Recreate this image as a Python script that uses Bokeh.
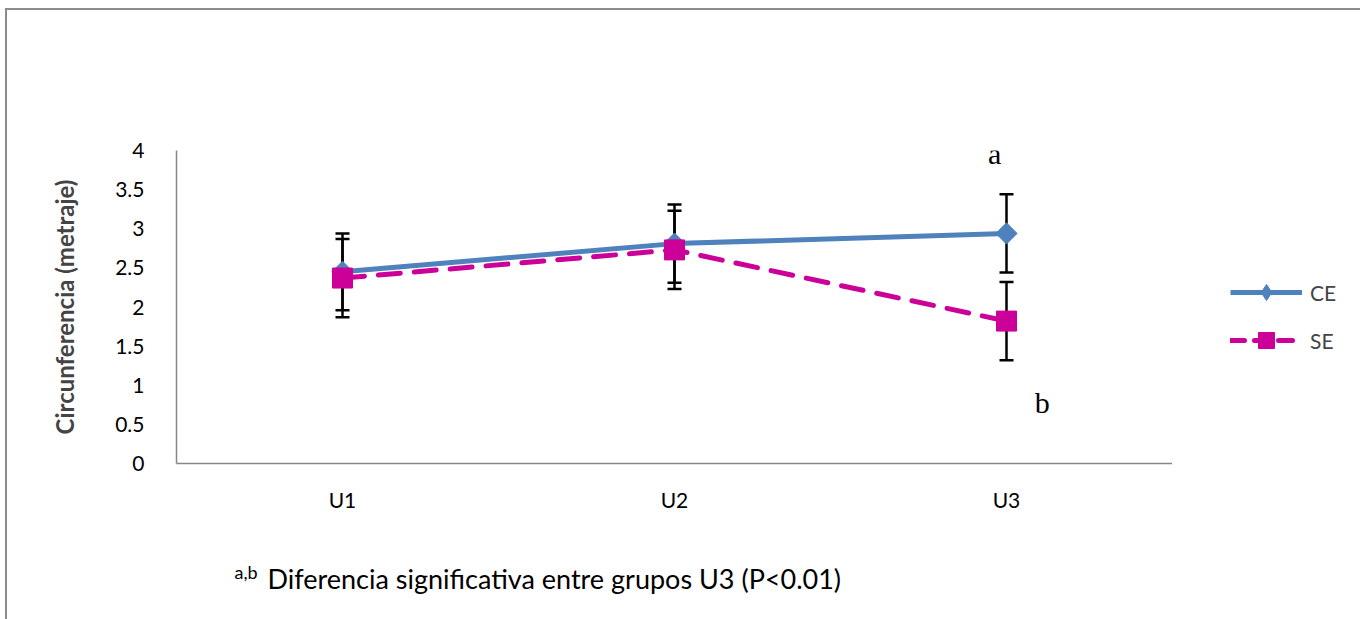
import numpy as np
from bokeh.plotting import figure
from bokeh.layouts import column, row
from bokeh.models import (ColumnDataSource, Whisker, TeeHead, Legend, LegendItem,
                          Label, FactorRange, Range1d)
from bokeh.embed import file_html
from bokeh.resources import INLINE

# ---- data ----
groups = ["U1", "U2", "U3"]
ce_mean = [2.45, 2.81, 2.94]
ce_err = [0.49, 0.50, 0.50]
se_mean = [2.37, 2.73, 1.82]
se_err = [0.50, 0.50, 0.50]
y_ticks = [0, 0.5, 1, 1.5, 2, 2.5, 3, 3.5, 4]
series_names = ["CE", "SE"]
footnote_sup = "a,b"
footnote_text = "Diferencia significativa entre grupos U3 (P<0.01)"

CE_COLOR = "#4F81BD"
SE_COLOR = "#CC0099"
AX_COLOR = "#868686"
FONT = "Lato"

W = 1353   # inner width (inside the 2px border that starts at x=5)
H1 = 530   # main chart strip height
WL = 188   # legend strip width

p = figure(width=W - WL, height=H1, x_range=FactorRange(*groups, range_padding=0),
           y_range=(0, 4), output_backend="svg", toolbar_location=None,
           min_border_left=169, min_border_right=0, min_border_top=140,
           min_border_bottom=77)
p.outline_line_color = None
p.xgrid.grid_line_color = None
p.ygrid.grid_line_color = None

# axes
p.yaxis.ticker = y_ticks
p.yaxis.major_label_overrides = {0: "0", 1: "1", 2: "2", 3: "3", 4: "4"}
for ax in (p.xaxis[0], p.yaxis[0]):
    ax.axis_line_color = AX_COLOR
    ax.axis_line_width = 1.5
    ax.major_tick_line_color = None
    ax.minor_tick_line_color = None
    ax.major_label_text_font = FONT
    ax.major_label_text_font_size = "21px"
    ax.major_label_text_color = "#000000"
p.yaxis.major_label_standoff = 26
p.xaxis.major_label_standoff = 17
p.yaxis.axis_label = "Circunferencia (metraje)"
p.yaxis.axis_label_text_font = FONT
p.yaxis.axis_label_text_font_style = "bold"
p.yaxis.axis_label_text_font_size = "24px"
p.yaxis.axis_label_standoff = 33

# error bars
ce_src = ColumnDataSource(dict(x=groups, y=ce_mean,
                               upper=[m + e for m, e in zip(ce_mean, ce_err)],
                               lower=[m - e for m, e in zip(ce_mean, ce_err)]))
se_src = ColumnDataSource(dict(x=groups, y=se_mean,
                               upper=[m + e for m, e in zip(se_mean, se_err)],
                               lower=[m - e for m, e in zip(se_mean, se_err)]))
for src in (ce_src, se_src):
    w = Whisker(source=src, base="x", upper="upper", lower="lower",
                line_color="black", line_width=2.5, level="underlay",
                upper_head=TeeHead(size=14, line_width=2.5, line_color="black"),
                lower_head=TeeHead(size=14, line_width=2.5, line_color="black"))
    p.add_layout(w)

# series
p.line("x", "y", source=ce_src, line_color=CE_COLOR, line_width=5)
p.scatter("x", "y", source=ce_src, marker="square", angle=np.pi / 4,
          size=15, fill_color=CE_COLOR, line_color=CE_COLOR)
p.line("x", "y", source=se_src, line_color=SE_COLOR, line_width=5,
       line_dash="22 14", line_cap="round")
p.scatter("x", "y", source=se_src, marker="square", size=20,
          fill_color=SE_COLOR, line_color=SE_COLOR)

# significance letters
p.add_layout(Label(x=2.464, y=3.96, text="a", text_font="Liberation Serif",
                   text_font_size="30px", text_align="center",
                   text_baseline="middle", text_color="black"))
p.add_layout(Label(x=2.608, y=0.78, text="b", text_font="Liberation Serif",
                   text_font_size="30px", text_align="center",
                   text_baseline="middle", text_color="black"))

# legend strip (right of the plot area; its frame is aligned with the plot frame)
leg = figure(width=WL, height=H1, x_range=Range1d(0, WL), y_range=Range1d(0, H1),
             output_backend="svg", toolbar_location=None,
             x_axis_type=None, y_axis_type=None, min_border=0)
leg.outline_line_color = None
leg.xgrid.visible = False
leg.ygrid.visible = False


def _proxy():
    return ColumnDataSource(dict(x=[np.nan], y=[np.nan]))


l_ce = leg.line(x="x", y="y", source=_proxy(), line_color=CE_COLOR, line_width=5)
m_ce = leg.scatter(x="x", y="y", source=_proxy(), marker="diamond",
                   fill_color=CE_COLOR, line_color=CE_COLOR)
l_se = leg.line(x="x", y="y", source=_proxy(), line_color=SE_COLOR, line_width=5,
                line_dash="14 10", line_cap="round")
m_se = leg.scatter(x="x", y="y", source=_proxy(), marker="square",
                   fill_color=SE_COLOR, line_color=SE_COLOR)
legend = Legend(items=[LegendItem(label=series_names[0], renderers=[l_ce, m_ce]),
                       LegendItem(label=series_names[1], renderers=[l_se, m_se])],
                location=(58, 103), padding=0, margin=0, spacing=8,
                glyph_width=72, glyph_height=40, label_height=40,
                label_standoff=8, border_line_color=None,
                background_fill_alpha=0,
                label_text_font=FONT, label_text_font_size="21px")
leg.add_layout(legend)

# footnote strip
FH = 79
foot = figure(width=W, height=FH, x_range=Range1d(0, W), y_range=Range1d(FH, 0),
              output_backend="svg", toolbar_location=None,
              x_axis_type=None, y_axis_type=None, min_border=0)
foot.outline_line_color = None
foot.xgrid.visible = False
foot.ygrid.visible = False
foot.add_layout(Label(x=227, y=31, text=footnote_sup, text_font=FONT,
                      text_font_size="18px", text_align="left",
                      text_baseline="middle", text_color="black"))
foot.add_layout(Label(x=260, y=38, text=footnote_text, text_font=FONT,
                      text_font_size="27px", text_align="left",
                      text_baseline="middle", text_color="black"))

layout = column(row(p, leg, spacing=0), foot, spacing=0, margin=(8, 0, 0, 5),
                styles={"border-top": "2px solid #8c8c8c",
                        "border-left": "2px solid #8c8c8c",
                        "background-color": "white"})

open("out.html", "w").write(file_html(layout, INLINE))
